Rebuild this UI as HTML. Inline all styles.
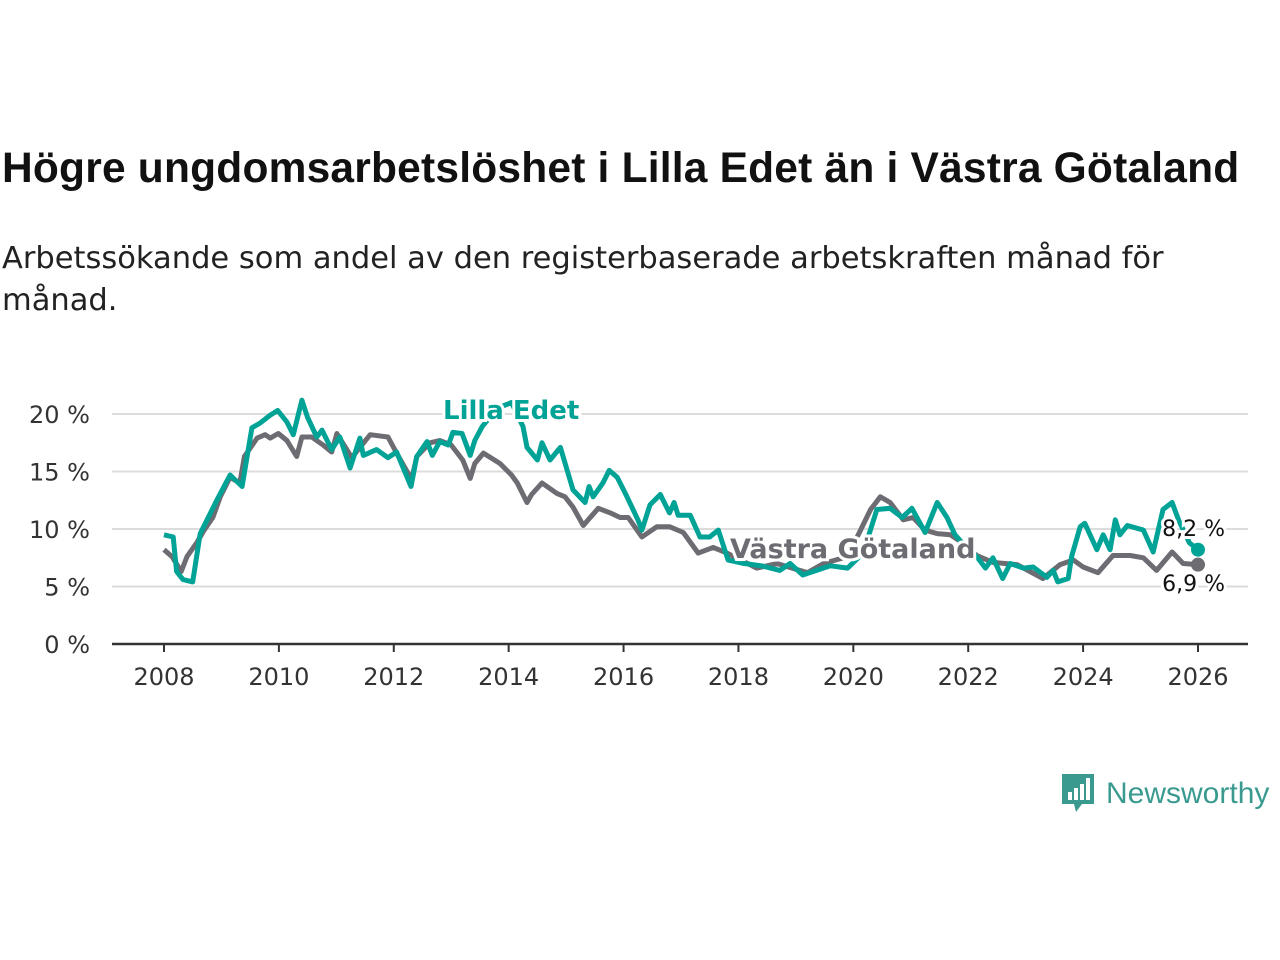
<!DOCTYPE html>
<html><head><meta charset="utf-8">
<style>
body{margin:0;background:#fff;width:1280px;height:960px;overflow:hidden;font-family:"Liberation Sans","DejaVu Sans",sans-serif;}
h1{position:absolute;left:2px;top:145px;margin:0;font-size:42.5px;font-weight:bold;color:#111;font-family:"Liberation Sans",sans-serif;white-space:nowrap;letter-spacing:0.2px;}
p{position:absolute;left:2px;top:238px;margin:0;width:1220px;font-size:30.5px;line-height:42px;color:#222;font-family:"DejaVu Sans","Liberation Sans",sans-serif;}
svg{position:absolute;left:0;top:0;}
</style></head><body>
<h1>Högre ungdomsarbetslöshet i Lilla Edet än i Västra Götaland</h1>
<p>Arbetssökande som andel av den registerbaserade arbetskraften månad för månad.</p>
<svg id="chart" width="1280" height="960" font-family="DejaVu Sans, Liberation Sans, sans-serif"></svg>
<div style="position:absolute;left:1060px;top:772px;display:flex;align-items:center;">
<svg width="36" height="44" style="position:static"><path d="M2 2h32v30H22l-6 8-2-8H2z" fill="#3a9a8f"/><rect x="8" y="20" width="4" height="8" fill="#fff"/><rect x="14" y="16" width="4" height="12" fill="#fff"/><rect x="20" y="12" width="4" height="16" fill="#fff"/><rect x="26" y="6" width="4" height="22" fill="#fff"/></svg>
<span style="font-size:30px;color:#3a9a8f;margin-left:10px;font-family:'Liberation Sans',sans-serif">Newsworthy</span></div>
<script>
const yTicks=[0,5,10,15,20];
const xTicks=[2008,2010,2012,2014,2016,2018,2020,2022,2024,2026];
const lillaT=[2008,2008.16,2008.22,2008.33,2008.5,2008.63,2008.92,2009.15,2009.36,2009.53,2009.67,2009.85,2009.98,2010.14,2010.25,2010.4,2010.5,2010.66,2010.75,2010.92,2011.06,2011.24,2011.41,2011.47,2011.7,2011.9,2012.05,2012.3,2012.4,2012.58,2012.67,2012.8,2012.95,2013.03,2013.19,2013.33,2013.41,2013.54,2013.8,2014.05,2014.25,2014.32,2014.5,2014.58,2014.72,2014.9,2015.12,2015.33,2015.4,2015.47,2015.64,2015.75,2015.89,2016.06,2016.25,2016.32,2016.46,2016.64,2016.8,2016.88,2016.95,2017.16,2017.33,2017.5,2017.65,2017.82,2018.1,2018.4,2018.72,2018.9,2019.12,2019.3,2019.6,2019.9,2020.17,2020.41,2020.64,2020.85,2021.02,2021.25,2021.46,2021.63,2021.77,2021.95,2022.15,2022.3,2022.43,2022.6,2022.73,2022.96,2023.13,2023.37,2023.48,2023.56,2023.74,2023.8,2023.95,2024.03,2024.24,2024.35,2024.47,2024.56,2024.64,2024.77,2025.05,2025.22,2025.39,2025.55,2025.66,2025.85,2026];
const lillaV=[9.5,9.3,6.3,5.6,5.4,9.6,12.5,14.7,13.7,18.8,19.2,19.9,20.3,19.3,18.2,21.2,19.7,18.0,18.6,16.9,18.0,15.3,17.9,16.4,16.9,16.2,16.7,13.7,16.3,17.6,16.4,17.6,17.3,18.4,18.3,16.4,17.7,18.9,20.5,21.0,18.9,17.1,16.0,17.5,16.0,17.1,13.4,12.3,13.7,12.8,14.0,15.1,14.5,12.8,10.8,9.9,12.1,13.0,11.4,12.3,11.2,11.2,9.3,9.3,9.9,7.3,7.0,6.8,6.4,7.0,6.0,6.3,6.8,6.6,7.9,11.7,11.8,11.0,11.8,9.7,12.3,11.0,9.5,8.5,7.6,6.6,7.5,5.7,7.0,6.6,6.7,5.8,6.4,5.4,5.7,7.6,10.2,10.5,8.2,9.5,8.2,10.8,9.5,10.3,9.9,8.0,11.7,12.3,10.8,8.8,8.2];
const vgT=[2008,2008.14,2008.3,2008.4,2008.57,2008.7,2008.85,2008.98,2009.15,2009.32,2009.4,2009.62,2009.76,2009.85,2009.99,2010.14,2010.31,2010.4,2010.57,2010.77,2010.92,2011.01,2011.27,2011.41,2011.59,2011.9,2012.05,2012.31,2012.4,2012.63,2012.8,2013.0,2013.2,2013.33,2013.41,2013.56,2013.85,2014.05,2014.15,2014.32,2014.4,2014.58,2014.84,2014.98,2015.12,2015.3,2015.42,2015.56,2015.77,2015.94,2016.08,2016.32,2016.58,2016.8,2017.04,2017.3,2017.56,2017.8,2018.32,2018.67,2019.2,2019.48,2019.9,2020.3,2020.47,2020.64,2020.87,2021.04,2021.25,2021.46,2021.69,2021.9,2022.15,2022.43,2022.85,2023.3,2023.6,2023.83,2024.0,2024.26,2024.52,2024.82,2025.05,2025.28,2025.55,2025.74,2026];
const vgV=[8.2,7.6,6.3,7.6,8.8,9.9,11.0,12.8,14.5,14.0,16.3,17.9,18.2,17.9,18.3,17.7,16.3,18.0,18.0,17.3,16.7,18.3,16.2,17.1,18.2,18.0,16.6,14.3,16.3,17.5,17.7,17.3,16.0,14.4,15.7,16.6,15.7,14.7,14.0,12.3,13.0,14.0,13.1,12.8,11.9,10.3,11.0,11.8,11.4,11.0,11.0,9.3,10.2,10.2,9.7,7.9,8.4,7.9,6.6,7.0,6.2,7.0,7.6,11.7,12.8,12.3,10.8,11.0,9.9,9.6,9.5,8.8,7.7,7.1,6.9,5.7,6.9,7.3,6.7,6.2,7.7,7.7,7.5,6.4,8.0,7.0,6.9];
const svg=document.getElementById('chart');const NS='http://www.w3.org/2000/svg';
const X=t=>164+(t-2008)*(1198-164)/18;const Y=v=>644-v*11.5;
function mk(tag,at){const e=document.createElementNS(NS,tag);for(const k in at)e.setAttribute(k,at[k]);svg.appendChild(e);return e;}
yTicks.forEach(v=>{
const g=mk('line',{x1:112,x2:1248,y1:Y(v),y2:Y(v),stroke:v?'#dcdcdc':'#333','stroke-width':v?2:2.5});


const t=mk('text',{x:90,y:Y(v)+9,'text-anchor':'end','font-size':24,fill:'#333'});t.textContent=v+' %';

});
xTicks.forEach(yr=>{
const l=mk('line',{x1:X(yr),x2:X(yr),y1:644,y2:652,stroke:'#333','stroke-width':2});


const t=mk('text',{x:X(yr),y:685,'text-anchor':'middle','font-size':24,fill:'#333'});t.textContent=yr;

});
function line(T,V,c,name){const d=T.map((t,i)=>(i?'L':'M')+X(t).toFixed(1)+' '+Y(V[i]).toFixed(1)).join('');
const p=mk('path',{d:d,fill:'none',stroke:c,'stroke-width':5,'stroke-linejoin':'round'});


const n=T.length-1;const dot=mk('circle',{cx:X(T[n]),cy:Y(V[n]),r:7,fill:c});

}
line(vgT,vgV,'#6d6c72','vastra-gotaland-line');
line(lillaT,lillaV,'#00a396','lilla-edet-line');
function lab(x,y,s,c,size,w,name,anchor){const t=mk('text',{x:x,y:y,'font-size':size,'font-weight':w,fill:c,stroke:'#fff','stroke-width':6,'paint-order':'stroke','text-anchor':anchor||'start'});t.textContent=s;

}
lab(443,419,'Lilla Edet','#00a396',26,'bold','lilla-edet-label');
lab(730,558,'Västra Götaland','#6d6c72',27,'bold','vastra-gotaland-label');
lab(1225,536,'8,2 %','#111',22,'normal','lilla-edet-value','end');
lab(1225,591,'6,9 %','#111',22,'normal','vastra-gotaland-value','end');
</script>
</body></html>
